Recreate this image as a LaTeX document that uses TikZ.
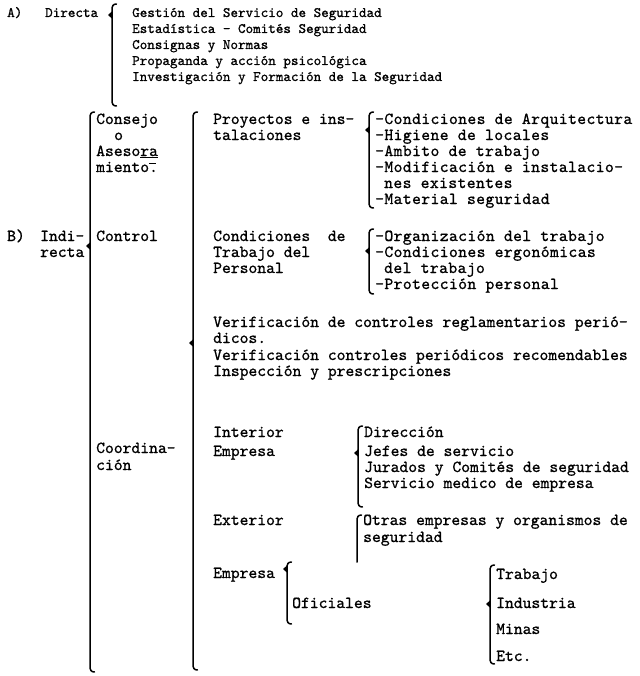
\documentclass[tikz,border=0pt]{standalone}
\usepackage{fontspec}
\newfontfamily\typewriterface{lmmono10-regular.otf}[FakeBold=0.9]
\newfontfamily\widetypewriterface{lmmono10-regular.otf}[FakeBold=0.9, LetterSpace=2.4]
\newcommand{\bigtype}{\fontsize{16.8bp}{16bp}\selectfont\typewriterface}
\newcommand{\widetype}{\fontsize{16.8bp}{16bp}\selectfont\widetypewriterface}
\newcommand{\smalltype}{\fontsize{14.4bp}{15bp}\selectfont\typewriterface}
% hand-drawn curly brace: #1 x, #2 top, #3 tip (0 = none), #4 bottom
\newcommand{\handbrace}[4]{%
  \draw[bracestroke] (#1+4.5,#2) .. controls (#1+1,#2) and (#1,#2+2) .. (#1,#2+6)
     -- (#1,#4-6) .. controls (#1,#4-2) and (#1+1,#4) .. (#1+4.5,#4);
  \ifnum#3>0
    \fill (#1+0.8,#3-4.5) -- (#1-3.8,#3) -- (#1+0.8,#3+4.5) -- cycle;
  \fi}
% brace whose lower end runs straight out
\newcommand{\openbrace}[3]{%
  \draw[bracestroke] (#1+4.5,#2) .. controls (#1+1,#2) and (#1,#2+2) .. (#1,#2+6) -- (#1,#3);}
\tikzset{
  bracestroke/.style={line width=1.5bp, line cap=round, line join=round},
  big/.style={anchor=base west, inner sep=0pt, font=\bigtype},
  wide/.style={anchor=base west, inner sep=0pt, font=\widetype},
  small/.style={anchor=base west, inner sep=0pt, font=\smalltype}
}
\begin{document}
\begin{tikzpicture}[x=1bp, y=-1bp]
\fill[white] (0,0) rectangle (640,676);
\useasboundingbox (0,0) rectangle (640,676);

% ---- A) Directa
\node[small] (A) at (7,17) {A)};
\node[small] (directa) at (45,17) {Directa};
\handbrace{112}{4}{15}{106}
\node[small] (a1) at (132,17) {Gestión del Servicio de Seguridad};
\node[small] (a2) at (132,33) {Estadística - Comités Seguridad};
\node[small] (a3) at (132,49) {Consignas y Normas};
\node[small] (a4) at (132,65) {Propaganda y acción psicológica};
\node[small] (a5) at (132,81) {Investigación y Formación de la Seguridad};

% ---- B) Indirecta
\node[big] (B) at (7,241) {B)};
\node[big] (indi) at (40,241) {Indi-};
\node[big] (recta) at (40,257) {recta};
\handbrace{90}{112}{246}{672}

\node[big] (consejo) at (96,124) {Consejo};
\node[big] (o) at (114,140) {o};
\node[big] (asesora) at (96,156) {Aseso\underline{ra}};
\node[big] (miento) at (96,172) {miento\makebox[0pt][l]{\rule[8.5bp]{7bp}{1bp}}.};
\node[big] (control) at (96,241) {Control};
\node[big] (coord1) at (96,453) {Coordina-};
\node[big] (coord2) at (96,470) {ción};

\handbrace{193}{112}{343}{670}

% Consejo o Asesoramiento
\node[big] (proy1) at (213,124) {Proyectos e ins-};
\node[big] (proy2) at (213,140) {talaciones};
\handbrace{369}{112}{130}{208}
\node[wide] (c11) at (375,124) {-Condiciones de Arquitectura};
\node[wide] (c12) at (375,140) {-Higiene de locales};
\node[wide] (c13) at (375,156) {-Ambito de trabajo};
\node[wide] (c14) at (375,172) {-Modificación e instalacio-};
\node[wide] (c15) at (384,188) {nes existentes};
\node[wide] (c16) at (375,204) {-Material seguridad};

% Control
\node[big] (cond1) at (213,241) {Condiciones\ \ de};
\node[big] (cond2) at (213,257) {Trabajo del};
\node[big] (cond3) at (213,273) {Personal};
\handbrace{369}{229}{251}{294}
\node[wide] (c21) at (375,241) {-Organización del trabajo};
\node[wide] (c22) at (375,257) {-Condiciones ergonómicas};
\node[wide] (c23) at (384,273) {del trabajo};
\node[wide] (c24) at (375,289) {-Protección personal};

\node[big] (v1) at (213,327) {Verificación de controles reglamentarios perió-};
\node[big] (v2) at (213,343) {dicos.};
\node[big] (v3) at (213,360) {Verificación controles periódicos recomendables};
\node[big] (v4) at (213,376) {Inspección y prescripciones};

% Coordinación
\node[big] (int) at (213,437) {Interior};
\node[big] (emp1) at (213,456) {Empresa};
\handbrace{358}{426}{453}{507}
\node[big] (d1) at (364,437) {Dirección};
\node[big] (d2) at (364,456) {Jefes de servicio};
\node[big] (d3) at (364,472) {Jurados y Comités de seguridad};
\node[big] (d4) at (364,488) {Servicio medico de empresa};

\node[big] (ext) at (213,525) {Exterior};
\openbrace{357}{515}{562}
\node[big] (e1) at (363,525) {Otras empresas y organismos de};
\node[big] (e2) at (363,542) {seguridad};

\node[big] (emp2) at (213,578) {Empresa};
\handbrace{287}{562}{569}{624}
\node[big] (ofi) at (292,608) {Oficiales};
\handbrace{490}{565}{604}{664}
\node[big] (t1) at (496,579) {Trabajo};
\node[big] (t2) at (496,608) {Industria};
\node[big] (t3) at (496,634) {Minas};
\node[big] (t4) at (496,661) {Etc.};
\end{tikzpicture}
\end{document}
